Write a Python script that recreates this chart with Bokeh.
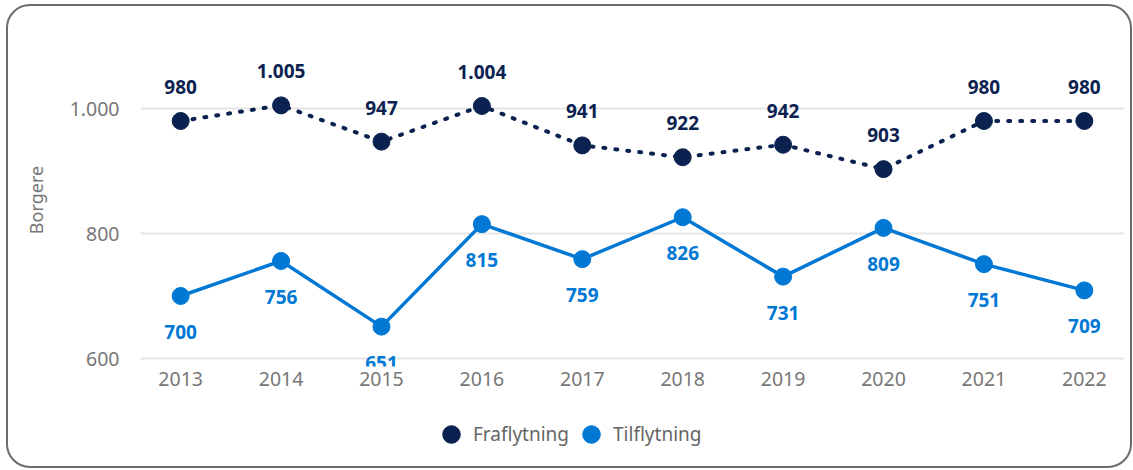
from bokeh.plotting import figure
from bokeh.layouts import column
from bokeh.core.properties import value
from bokeh.models import (ColumnDataSource, Legend, LegendItem, FixedTicker,
                          LabelSet, Range1d)
from bokeh.embed import file_html
from bokeh.resources import INLINE

years = [2013, 2014, 2015, 2016, 2017, 2018, 2019, 2020, 2021, 2022]
fraflytning = [980, 1005, 947, 1004, 941, 922, 942, 903, 980, 980]
tilflytning = [700, 756, 651, 815, 759, 826, 731, 809, 751, 709]
y_ticks = [600, 800, 1000]
series_names = ["Fraflytning", "Tilflytning"]

NAVY = "#0b2250"
BLUE = "#0078d4"
GREY = "#777777"


def dk(v):
    return f"{v:,}".replace(",", ".")


src_f = ColumnDataSource(dict(x=years, y=fraflytning, t=[dk(v) for v in fraflytning]))
src_t = ColumnDataSource(dict(x=years, y=tilflytning, t=[dk(v) for v in tilflytning]))

W, H1, H2 = 1122, 396, 64
p = figure(width=W, height=H1, output_backend="svg", toolbar_location=None,
           x_range=Range1d(2012.6, 2022.4), y_range=Range1d(587.2, 1120),
           min_border_left=132, min_border_right=6, min_border_top=27,
           min_border_bottom=36)
p.background_fill_alpha = 0
p.border_fill_alpha = 0
p.outline_line_color = None

# axes
p.xaxis.ticker = FixedTicker(ticks=years)
p.yaxis.ticker = FixedTicker(ticks=y_ticks)
p.yaxis.major_label_overrides = {v: dk(v) for v in y_ticks}
for ax in (p.xaxis[0], p.yaxis[0]):
    ax.axis_line_color = None
    ax.major_tick_line_color = None
    ax.minor_tick_line_color = None
    ax.major_tick_out = 0
    ax.minor_tick_out = 0
    ax.major_label_text_font = "Noto Sans"
    ax.major_label_text_font_size = "19.5px"
    ax.major_label_text_color = GREY
p.xaxis.major_label_standoff = 5
p.yaxis.major_label_standoff = 21
p.yaxis.axis_label = "Borgere"
p.yaxis.axis_label_text_font = "Noto Sans"
p.yaxis.axis_label_text_font_style = "normal"
p.yaxis.axis_label_text_font_size = "18px"
p.yaxis.axis_label_text_color = GREY
p.yaxis.axis_label_standoff = 19

p.xgrid.grid_line_color = None
p.ygrid.grid_line_color = "#e6e6e6"
p.ygrid.grid_line_width = 2

# series
p.line("x", "y", source=src_f, line_color=NAVY, line_width=4,
       line_dash="2 10", line_cap="round")
p.scatter("x", "y", source=src_f, size=17, color=NAVY)
p.line("x", "y", source=src_t, line_color=BLUE, line_width=3.5)
p.scatter("x", "y", source=src_t, size=17, color=BLUE)

lab_f = LabelSet(x="x", y="y", text="t", source=src_f, y_offset=34,
                 text_align="center", text_baseline="middle",
                 text_font=value("Noto Sans"), text_font_style="bold",
                 text_font_size="19px", text_color=NAVY)
lab_t = LabelSet(x="x", y="y", text="t", source=src_t, y_offset=-36,
                 text_align="center", text_baseline="middle",
                 text_font=value("Noto Sans"), text_font_style="bold",
                 text_font_size="19px", text_color=BLUE)
p.add_layout(lab_f)
p.add_layout(lab_t)

# legend strip below the chart (its renderers fall outside its own view)
p2 = figure(width=W, height=H2, output_backend="svg", toolbar_location=None,
            x_axis_type=None, y_axis_type=None,
            x_range=Range1d(0, 1), y_range=Range1d(0, 1),
            min_border_left=0, min_border_top=0, min_border_bottom=0,
            min_border_right=3)
p2.background_fill_alpha = 0
p2.border_fill_alpha = 0
p2.outline_line_color = None
p2.xgrid.grid_line_color = None
p2.ygrid.grid_line_color = None
r_f = p2.scatter("x", "y", source=src_f, size=17, color=NAVY)
r_t = p2.scatter("x", "y", source=src_t, size=17, color=BLUE)
legend = Legend(items=[LegendItem(label=series_names[0], renderers=[r_f]),
                       LegendItem(label=series_names[1], renderers=[r_t])],
                orientation="horizontal", location=(289, 10),
                glyph_width=44, glyph_height=44, label_standoff=0, spacing=0,
                padding=0, margin=0, border_line_color=None,
                background_fill_alpha=0,
                label_text_font="Noto Sans", label_text_font_size="19px",
                label_text_color="#666666")
p2.add_layout(legend, "center")

layout = column(p, p2, spacing=0)
layout.styles = {"border": "2px solid #6b6b6b", "border-radius": "24px",
                 "overflow": "hidden", "margin": "4px 0 0 6px"}

open("out.html", "w").write(file_html(layout, INLINE))
